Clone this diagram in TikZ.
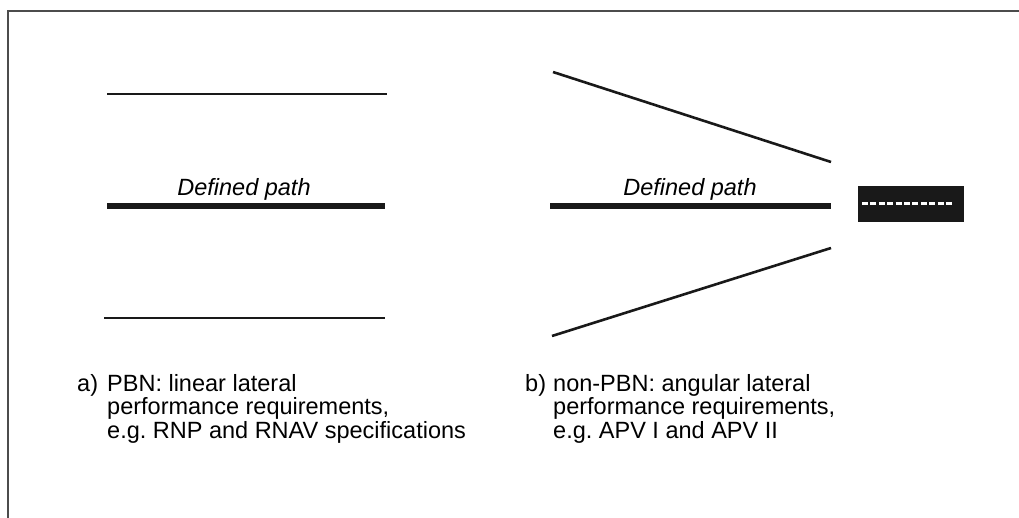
\documentclass[tikz,border=0pt]{standalone}
\usepackage{fontspec}
\setmainfont{Liberation Sans}
\usetikzlibrary{positioning}
\frenchspacing

\begin{document}
\begin{tikzpicture}
[x=1pt, y=-1pt,
 frame/.style={line width=1.8pt, black!70},
 limit/.style={line width=2.6pt, black!90},
 defpath/.style={line width=5.5pt, black!90},
 pathlabel/.style={inner sep=0pt, anchor=base, font=\itshape\fontsize{23.5}{24}\selectfont},
 tag/.style={inner sep=0pt, anchor=base west, font=\fontsize{23.5}{24}\selectfont},
 caption/.style={inner sep=0pt, anchor=north west, align=left, font=\fontsize{23.5}{23.5}\selectfont},
 runway/.style={rectangle, fill=black!90, minimum width=106pt, minimum height=36pt, inner sep=0pt},
 centreline/.style={white, line width=3pt, dash pattern=on 6pt off 2.4pt}]
    \useasboundingbox (0,0) rectangle (1019,518);
    % open frame
    \coordinate (fcorner) at (8,11);
    \draw[frame] (1019,11) -- (fcorner) -- (8,518);
    % a) linear limits
    \coordinate (a1) at (107,94);   \coordinate (a2) at (387,94);
    \coordinate (a3) at (107,206);  \coordinate (a4) at (385,206);
    \coordinate (a5) at (104,318);  \coordinate (a6) at (385,318);
    \draw[limit] (a1) -- (a2);
    \draw[defpath] (a3) -- (a4);
    \draw[limit] (a5) -- (a6);
    \node[pathlabel](labela) at (244,196) {Defined path};
    % b) angular limits
    \coordinate (b1) at (553,72);   \coordinate (b2) at (831,162);
    \coordinate (b3) at (550,206);  \coordinate (b4) at (831,206);
    \coordinate (b5) at (552,336);  \coordinate (b6) at (831,248);
    \draw[limit] (b1) -- (b2);
    \draw[defpath] (b3) -- (b4);
    \draw[limit] (b5) -- (b6);
    \node[pathlabel](labelb) at (690,196) {Defined path};
    % runway
    \node[runway](rwy) at (911,204) {};
    \coordinate (cl1) at (862,204); \coordinate (cl2) at (953,204);
    \draw[centreline] (cl1) -- (cl2);
    % captions
    \node[tag](taga) at (77,391) {a)};
    \node[caption](capa) at (107,374.2) {PBN: linear lateral\\performance requirements,\\e.g. RNP and RNAV specifications};
    \node[tag](tagb) at (525,391) {b)};
    \node[caption](capb) at (553,374.2) {non-PBN: angular lateral\\performance requirements,\\e.g. APV I and APV II};
\end{tikzpicture}
\end{document}
